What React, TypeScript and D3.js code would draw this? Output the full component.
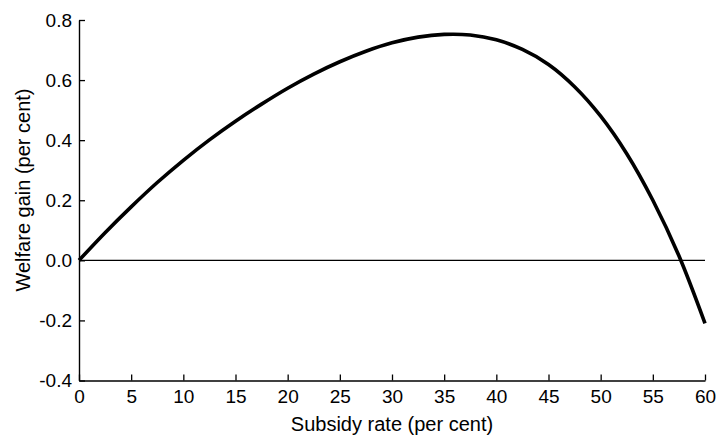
import { useEffect, useRef } from 'react'
import * as d3 from 'd3'

// Subsidy rate (per cent) vs welfare gain (per cent)
const subsidyRate = [0, 2.5, 5, 7.5, 10, 12.5, 15, 17.5, 20, 22.5, 25, 27.5, 30, 32.5, 35, 37.5, 40, 42.5, 45, 47.5, 50, 52.5, 55, 57.5, 60]
const welfareGain = [0, 0.092, 0.178, 0.259, 0.333, 0.401, 0.463, 0.52, 0.573, 0.62, 0.661, 0.696, 0.724, 0.743, 0.752, 0.75, 0.734, 0.702, 0.652, 0.578, 0.48, 0.355, 0.2, 0.015, -0.21]

const xTicks = [0, 5, 10, 15, 20, 25, 30, 35, 40, 45, 50, 55, 60]
const yTicks = [-0.4, -0.2, 0, 0.2, 0.4, 0.6, 0.8]

const W = 717
const H = 437

function WelfareChart() {
  const svgRef = useRef<SVGSVGElement | null>(null)

  useEffect(() => {
    const svg = d3.select(svgRef.current)
    svg.selectAll('*').remove()

    const x = d3.scaleLinear().domain([0, 60]).range([79, 705])
    const y = d3.scaleLinear().domain([-0.4, 0.8]).range([380.5, 20])
    const font = 'Liberation Sans, Arial, Helvetica, sans-serif'

    // plain hyphen for negatives, like the original
    const yFmt = (d: d3.NumberValue) => (+d).toFixed(1)

    // ── Axes (ticks point inward) ───────────────────────────────────
    const xAxis = svg.append('g')
      .attr('transform', `translate(0,${y(-0.4)})`)
      .call(d3.axisBottom(x).tickValues(xTicks).tickSizeInner(-6).tickSizeOuter(0).tickPadding(9).tickFormat(d => String(d)))
    const yAxis = svg.append('g')
      .attr('transform', `translate(${x(0)},0)`)
      .call(d3.axisLeft(y).tickValues(yTicks).tickSizeInner(-6).tickSizeOuter(0).tickPadding(7).tickFormat(yFmt))

    ;[xAxis, yAxis].forEach(a => {
      a.select('.domain').attr('stroke', '#000').attr('stroke-width', 1.4)
      a.selectAll('.tick line').attr('stroke', '#000').attr('stroke-width', 1.3)
      a.selectAll('.tick text')
        .attr('fill', '#000')
        .style('font-family', font)
        .style('font-size', '19px')
    })
    xAxis.selectAll('.tick text').attr('dy', '0.71em').attr('y', 9)

    // ── Zero reference line ─────────────────────────────────────────
    svg.append('line')
      .attr('x1', x(0)).attr('x2', x(60))
      .attr('y1', y(0)).attr('y2', y(0))
      .attr('stroke', '#000')
      .attr('stroke-width', 1.4)

    // ── Welfare curve ───────────────────────────────────────────────
    const pts: [number, number][] = subsidyRate.map((s, i) => [s, welfareGain[i]])
    const line = d3.line<[number, number]>()
      .x(d => x(d[0]))
      .y(d => y(d[1]))
      .curve(d3.curveCatmullRom.alpha(0.5))

    svg.append('path')
      .datum(pts)
      .attr('d', line)
      .attr('fill', 'none')
      .attr('stroke', '#000')
      .attr('stroke-width', 3.6)

    // ── Axis titles ─────────────────────────────────────────────────
    svg.append('text')
      .attr('x', 392)
      .attr('y', 431)
      .attr('text-anchor', 'middle')
      .style('font-family', font)
      .style('font-size', '20px')
      .text('Subsidy rate (per cent)')

    svg.append('text')
      .attr('transform', `translate(29.5,190) rotate(-90)`)
      .attr('text-anchor', 'middle')
      .style('font-family', font)
      .style('font-size', '20px')
      .text('Welfare gain (per cent)')
  }, [])

  return <svg ref={svgRef} width={W} height={H} style={{ display: 'block', background: '#fff' }} />
}

export default function App() {
  return (
    <div style={{ position: 'fixed', left: 0, top: 0 }}>
      <WelfareChart />
    </div>
  )
}
